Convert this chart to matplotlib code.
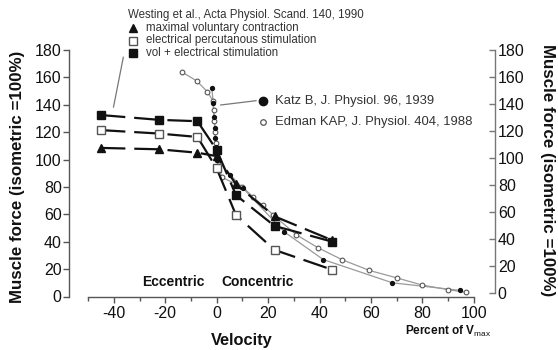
import matplotlib
matplotlib.use('Agg')
import matplotlib.pyplot as plt
from matplotlib.lines import Line2D

plt.rcParams['font.family'] = ['Liberation Sans', 'DejaVu Sans']
plt.rcParams['mathtext.fontset'] = 'custom'
plt.rcParams['mathtext.rm'] = 'Liberation Sans'

# ---- data ----
# Westing et al., Acta Physiol. Scand. 140, 1990
westing_velocity = [-45, -22.5, -7.5, 0, 7.5, 22.5, 45]
westing_mvc = [108.5, 107.5, 105, 102.5, 82, 58.5, 41]          # maximal voluntary contraction
westing_eps = [121.5, 119, 116.5, 93.5, 59.5, 34, 19.5]         # electrical percutanous stimulation
westing_vol_es = [132.5, 129, 128, 107, 74, 51.5, 40]           # vol + electrical stimulation

# Katz B, J. Physiol. 96, 1939
katz_velocity = [-1.9, -1.3, -1.0, -0.7, -0.5, -0.3, 0, 5.2, 10.3, 26.2, 41.4, 68.3, 94.5]
katz_force = [152, 141, 131, 123, 116, 109, 100, 89, 79, 47.3, 27, 10, 4.5]

# Edman KAP, J. Physiol. 404, 1988
edman_velocity = [-13.6, -7.8, -3.6, -1.5, -1.2, -0.9, -0.6, -0.4, -0.2, 0,
                  2, 10, 14, 18, 22, 31, 39.5, 48.6, 59.4, 70.2, 80, 90, 97]
edman_force = [164, 157.5, 149.5, 143, 136, 128, 120, 112, 105, 100,
               87, 80, 73, 66.5, 59.5, 45, 35.5, 27, 19, 13.5, 8.3, 5, 3]

x_major = [-40, -20, 0, 20, 40, 60, 80, 100]
x_minor = [-50, -30, -10, 10, 30, 50, 70, 90]
y_ticks = [0, 20, 40, 60, 80, 100, 120, 140, 160, 180]

W, H = 558, 350
def fx(px):
    return px / W
def fy(py):
    return 1 - py / H

fig = plt.figure(figsize=(5.58, 3.5), dpi=100)
ax = fig.add_axes([fx(69.3), fy(296.5), (495 - 69.3) / W, (296.5 - 50) / H])
ax.set_xlim(-57.3, 108.2)
ax.set_ylim(0, 180)

spine_c = '#555555'
txt_c = '#111111'

# gray curves (Katz, Edman)
ax.plot(edman_velocity, edman_force, color='#9a9a9a', lw=0.9, zorder=2)
ax.plot(katz_velocity, katz_force, color='#9a9a9a', lw=0.9, zorder=2)
ax.plot(edman_velocity, edman_force, ls='none', marker='o', ms=3.4, mfc='white',
        mec='#555555', mew=0.8, zorder=3)
ax.plot(katz_velocity, katz_force, ls='none', marker='o', ms=2.8, mfc='#111111',
        mec='#111111', zorder=3)

# Westing dashed series
dash = (0, (11, 4))
ax.plot(westing_velocity, westing_mvc, color='#111111', lw=1.6, ls=dash, zorder=4)
ax.plot(westing_velocity, westing_eps, color='#111111', lw=1.6, ls=dash, zorder=4)
ax.plot(westing_velocity, westing_vol_es, color='#111111', lw=1.6, ls=dash, zorder=4)
ax.plot(westing_velocity, westing_mvc, ls='none', marker='^', ms=5.5, mfc='#111111',
        mec='#111111', zorder=5)
ax.plot(westing_velocity, westing_eps, ls='none', marker='s', ms=5.3, mfc='white',
        mec='#555555', mew=1.0, zorder=5)
ax.plot(westing_velocity, westing_vol_es, ls='none', marker='s', ms=5.3, mfc='#111111',
        mec='#111111', zorder=5)

# axes styling
for s in ['top', 'right']:
    ax.spines[s].set_visible(False)
ax.spines['bottom'].set_bounds(-50, 100)
ax.spines['left'].set_bounds(0, 180)
for s in ['bottom', 'left']:
    ax.spines[s].set_color(spine_c)
    ax.spines[s].set_linewidth(1.0)
ax.set_xticks(x_major)
ax.set_xticks(x_minor, minor=True)
ax.set_xticklabels([str(v) for v in x_major])
ax.set_yticks(y_ticks)
ax.set_yticklabels([str(v) for v in y_ticks])
ax.tick_params(axis='x', which='major', direction='out', length=4, width=1,
               color=spine_c, labelsize=11.5, labelcolor=txt_c, pad=3)
ax.tick_params(axis='x', which='minor', direction='out', length=3, width=1,
               color=spine_c)
ax.tick_params(axis='y', direction='out', length=4, width=1, color=spine_c,
               labelsize=11.5, labelcolor=txt_c, pad=1.5)

ax2 = ax.twinx()
ax2.set_ylim(-2.5, 177.5)
for s in ['top', 'left', 'bottom']:
    ax2.spines[s].set_visible(False)
ax2.spines['right'].set_bounds(0, 180)
ax2.spines['right'].set_color('#777777')
ax2.spines['right'].set_linewidth(1.0)
ax2.set_yticks(y_ticks)
ax2.set_yticklabels([str(v) for v in y_ticks])
ax2.tick_params(axis='y', direction='in', length=4, width=1, color='#777777',
                labelsize=11.5, labelcolor=txt_c, pad=2)

# axis titles
fig.text(fx(18), fy(177), 'Muscle force (isometric =100%)', rotation=90,
         ha='center', va='center', fontsize=12.2, fontweight='bold', color=txt_c)
fig.text(fx(548), fy(170), 'Muscle force (isometric =100%)', rotation=-90,
         ha='center', va='center', fontsize=12.2, fontweight='bold', color=txt_c)
fig.text(fx(242), fy(340), 'Velocity', ha='center', va='center', fontsize=11.8,
         fontweight='bold', color=txt_c)
fig.text(fx(405), fy(331), r'Percent of V$_{\rm max}$', ha='left', va='center',
         fontsize=8.5, fontweight='bold', color=txt_c)
fig.text(fx(173.5), fy(282.5), 'Eccentric', ha='center', va='center', fontsize=10,
         fontweight='bold', color=txt_c)
fig.text(fx(258), fy(282.5), 'Concentric', ha='center', va='center', fontsize=10,
         fontweight='bold', color=txt_c)

# Westing legend
leg_c = '#333333'
fig.text(fx(128), fy(15), 'Westing et al., Acta Physiol. Scand. 140, 1990',
         ha='left', va='center', fontsize=8.3, color=leg_c)
leg_items = [('^', '#111111', '#111111', 'maximal voluntary contraction', 27.7),
             ('s', 'white', '#555555', 'electrical percutanous stimulation', 40.5),
             ('s', '#111111', '#111111', 'vol + electrical stimulation', 52.5)]
for mk, fc, ec, lab, py in leg_items:
    fig.add_artist(Line2D([fx(132.5)], [fy(py)], transform=fig.transFigure,
                          marker=mk, ms=5.5, mfc=fc, mec=ec, mew=1.0, ls='none'))
    fig.text(fx(146), fy(py), lab, ha='left', va='center', fontsize=8.3, color=leg_c)
fig.add_artist(Line2D([fx(123.3), fx(113.5)], [fy(57.3), fy(107)],
                      transform=fig.transFigure, color='#777777', lw=0.9))

# Katz / Edman legend
fig.add_artist(Line2D([fx(220.7), fx(256)], [fy(105), fy(100.7)],
                      transform=fig.transFigure, color='#777777', lw=0.9))
fig.add_artist(Line2D([fx(262.7)], [fy(101.3)], transform=fig.transFigure,
                      marker='o', ms=6, mfc='#111111', mec='#111111', ls='none'))
fig.add_artist(Line2D([fx(262.7)], [fy(121.7)], transform=fig.transFigure,
                      marker='o', ms=4, mfc='white', mec='#555555', mew=0.9, ls='none'))
fig.text(fx(275), fy(101.3), 'Katz B, J. Physiol. 96, 1939', ha='left', va='center',
         fontsize=9.4, color=leg_c)
fig.text(fx(275), fy(121.7), 'Edman KAP, J. Physiol. 404, 1988', ha='left',
         va='center', fontsize=9.4, color=leg_c)

fig.savefig('out.png', dpi=100)
